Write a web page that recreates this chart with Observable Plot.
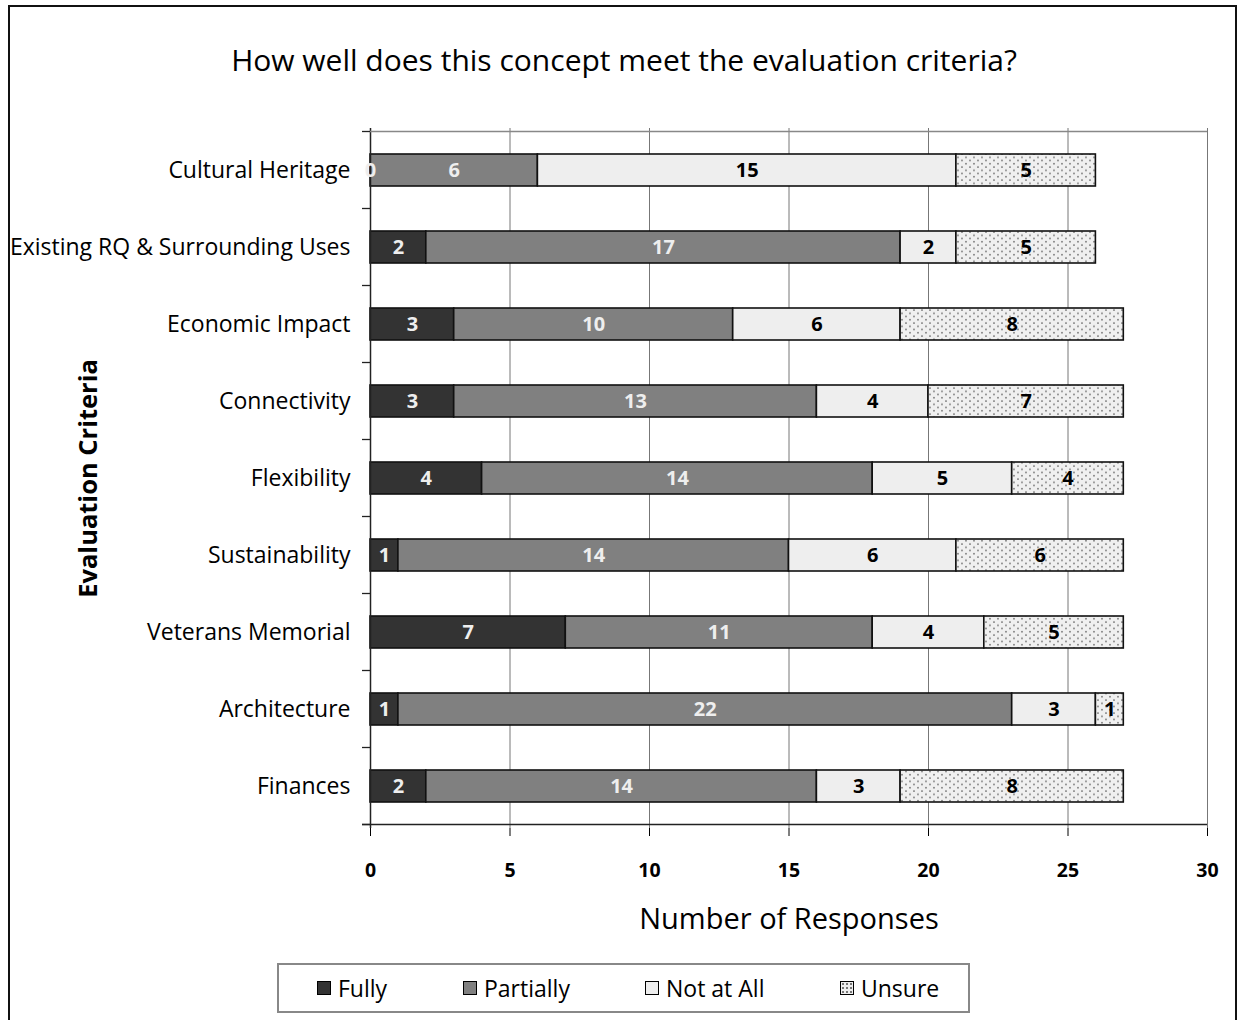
<!DOCTYPE html>
<html>
<head>
<meta charset="utf-8">
<script src="https://cdn.jsdelivr.net/npm/d3@7"></script>
<script src="https://cdn.jsdelivr.net/npm/@observablehq/plot@0.6"></script>
<style>
  body { margin: 0; width: 1238px; height: 1020px; overflow: hidden; background: #fff; font-family: "Open Sans", Lato, sans-serif; }
  #frame { position: absolute; left: 8px; top: 5px; width: 1229px; height: 1060px; border: 2px solid #111; box-sizing: border-box; }
  #title { position: absolute; left: 0; top: 39px; width: 1248px; text-align: center; font-size: 30px; line-height: 42px; color: #000; }
  #chart { position: absolute; left: 0; top: 100px; }
  #chart svg { font-family: "Open Sans", Lato, sans-serif; overflow: visible; }
  #legend { position: absolute; left: 277px; top: 963px; width: 693px; height: 50px; border: 2px solid #888; box-sizing: border-box; font-size: 23px; color: #000; }
  .item { position: absolute; display: flex; align-items: center; top: 7px; }
  .sw { width: 14px; height: 14px; border: 1.5px solid #000; box-sizing: border-box; margin-right: 7px; }
</style>
</head>
<body>
<div id="frame"></div>
<div id="title">How well does this concept meet the evaluation criteria?</div>
<div id="chart"></div>
<div id="legend"></div>
<script>
const categories = ["Cultural Heritage", "Existing RQ & Surrounding Uses", "Economic Impact", "Connectivity", "Flexibility", "Sustainability", "Veterans Memorial", "Architecture", "Finances"];
const seriesNames = ["Fully", "Partially", "Not at All", "Unsure"];
const fully      = [0, 2, 3, 3, 4, 1, 7, 1, 2];
const partially  = [6, 17, 10, 13, 14, 14, 11, 22, 14];
const notAtAll   = [15, 2, 6, 4, 5, 6, 4, 3, 3];
const unsure     = [5, 5, 8, 7, 4, 6, 5, 1, 8];
const xTicks = [0, 5, 10, 15, 20, 25, 30];

const seriesValues = [fully, partially, notAtAll, unsure];
const fills = {"Fully": "#333333", "Partially": "#808080", "Not at All": "#eeeeee", "Unsure": "url(#dots)"};
const textFills = {"Fully": "#eeeeee", "Partially": "#eeeeee", "Not at All": "#000000", "Unsure": "#000000"};
const legendFills = {"Fully": "#333333", "Partially": "#808080", "Not at All": "#eeeeee", "Unsure": "#eeeeee"};

const data = [];
seriesNames.forEach((s, si) => categories.forEach((c, ci) => data.push({cat: c, series: s, value: seriesValues[si][ci]})));

// band-boundary ticks and axis lines, positioned through the y and x scales
function axisDecor(index, scales, values, dim) {
  const g = d3.create("svg:g");
  const y = scales.y, x = scales.x;
  const step = y.step(), bw = y.bandwidth();
  const x0 = x(0);
  const bounds = categories.map(c => y(c) - (step - bw) / 2);
  bounds.push(y(categories[categories.length - 1]) + bw + (step - bw) / 2);
  bounds.forEach(b => g.append("line").attr("x1", x0 - 8).attr("x2", x0).attr("y1", b).attr("y2", b).attr("stroke", "#222").attr("stroke-width", 1.3));
  const yb = bounds[bounds.length - 1];
  g.append("line").attr("x1", x0 - 8).attr("x2", x(30)).attr("y1", yb).attr("y2", yb).attr("stroke", "#222").attr("stroke-width", 1.5);
  g.append("line").attr("x1", x0).attr("x2", x(30)).attr("y1", bounds[0]).attr("y2", bounds[0]).attr("stroke", "#888").attr("stroke-width", 1.5);
  return g.node();
}

const plot = Plot.plot({
  width: 1238,
  height: 850,
  marginTop: 28,
  marginBottom: 122,
  marginLeft: 370,
  marginRight: 31,
  style: {fontSize: "21px", color: "#000", background: "transparent"},
  x: {domain: [0, 30], ticks: xTicks, tickSize: 8, tickPadding: 27, label: "Number of Responses", labelArrow: false, labelAnchor: "center", labelOffset: 100, tickFormat: d => d},
  y: {domain: categories, paddingInner: 0.59, paddingOuter: 0.295, tickSize: 0, tickPadding: 20, label: "Evaluation Criteria", labelAnchor: "center", labelOffset: 292},
  color: {type: "identity"},
  marks: [
    Plot.ruleX(xTicks.slice(1), {stroke: "#777", strokeWidth: 1}),
    Plot.barX(data, Plot.stackX({y: "cat", x: "value", z: "series", order: seriesNames, fill: d => fills[d.series], stroke: "#111", strokeWidth: 1.6})),
    Plot.ruleX([0], {stroke: "#222", strokeWidth: 1.5}),
    axisDecor,
    Plot.text(data, Plot.stackX({y: "cat", x: "value", z: "series", order: seriesNames, text: d => String(d.value), fill: d => textFills[d.series], fontWeight: "bold", fontSize: 20}))
  ]
});

// dotted pattern for "Unsure"
const svg = d3.select(plot);
const defs = svg.insert("defs", ":first-child");
const pat = defs.append("pattern").attr("id", "dots").attr("patternUnits", "userSpaceOnUse").attr("width", 8).attr("height", 6.5);
pat.append("rect").attr("width", 8).attr("height", 6.5).attr("fill", "#f0f0f0");
pat.append("circle").attr("cx", 2).attr("cy", 2).attr("r", 0.85).attr("fill", "#666");
pat.append("circle").attr("cx", 6).attr("cy", 5.25).attr("r", 0.85).attr("fill", "#666");

// style axis texts
svg.selectAll('[aria-label="x-axis tick label"]').style("font-weight", "bold").style("font-size", "19.5px");
svg.selectAll('[aria-label="x-axis label"]').style("font-size", "29px").style("font-weight", "normal");
svg.selectAll('[aria-label="y-axis label"]').style("font-size", "25.5px").style("font-weight", "bold");
svg.selectAll('[aria-label="y-axis tick label"]').style("font-size", "23px");

document.getElementById("chart").appendChild(plot);

// legend
const legend = document.getElementById("legend");
const lefts = [38, 184, 366, 561];
seriesNames.forEach((s, i) => {
  const it = document.createElement("div");
  it.className = "item";
  it.style.left = lefts[i] + "px";
  const sw = document.createElement("span");
  sw.className = "sw";
  sw.style.background = legendFills[s];
  if (s === "Unsure") sw.style.backgroundImage = "radial-gradient(#777 0.8px, transparent 1px)", sw.style.backgroundSize = "4px 4px";
  it.appendChild(sw);
  const t = document.createElement("span");
  t.textContent = s;
  it.appendChild(t);
  legend.appendChild(it);
});
</script>
</body>
</html>
